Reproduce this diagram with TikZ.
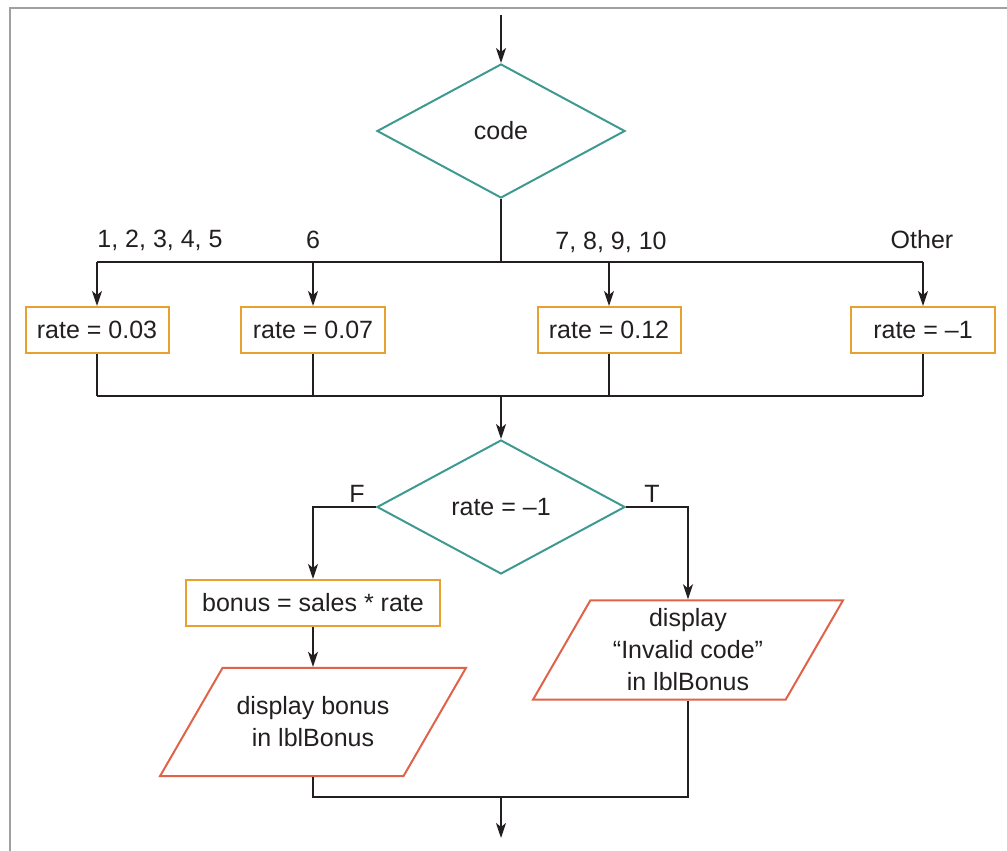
\documentclass[tikz,border=0pt]{standalone}
\usepackage{fontspec}
\setmainfont{Liberation Sans}
\usetikzlibrary{shapes.geometric,arrows.meta}
\definecolor{decisioncol}{RGB}{62,154,145}
\definecolor{processcol}{RGB}{232,160,48}
\definecolor{iocol}{RGB}{224,98,72}
\definecolor{framecol}{RGB}{160,160,160}
\definecolor{linecol}{RGB}{35,31,32}
\begin{document}
\begin{tikzpicture}[x=1pt,y=-1pt,line width=2pt,draw=linecol,
    every node/.style={font=\fontsize{25}{32}\selectfont,text=linecol},
    arr/.style={-{Stealth[length=15pt,width=10pt,inset=4pt]}},
    decision/.style={diamond,draw=decisioncol,inner sep=0pt,minimum width=248pt,minimum height=134pt},
    process/.style={rectangle,draw=processcol,minimum height=46pt,inner sep=0pt},
    io/.style={trapezium,trapezium left angle=60,trapezium right angle=120,trapezium stretches body=true,
      draw=iocol,inner xsep=0pt,align=center}]
  \useasboundingbox (0,0) rectangle (1007,851);
  \draw[framecol,line width=2.5pt] (10,860) -- (10,8) -- (1015,8);

  \node[decision] (code) at (501,131) {code};
  \node[process,minimum width=143pt] (r1) at (97,330) {rate = 0.03};
  \node[process,minimum width=144pt] (r2) at (313,330) {rate = 0.07};
  \node[process,minimum width=143pt] (r3) at (609,330) {rate = 0.12};
  \node[process,minimum width=144pt] (r4) at (923,330) {rate = –1};
  \node (l1) at (160,240) {1, 2, 3, 4, 5};
  \node (l2) at (313,240) {6};
  \node (l3) at (611,242) {7, 8, 9, 10};
  \node (l4) at (922,240) {Other};
  \node[decision] (test) at (501,507) {rate = –1};
  \node[process,minimum width=254pt] (bonus) at (313,603) {bonus = sales * rate};
  \node[io,minimum width=306pt,inner ysep=29pt] (p1) at (313,722) {display bonus\\in lblBonus};
  \node[io,minimum width=310pt,inner ysep=8.5pt] (p2) at (688,650) {display\\“Invalid code”\\in lblBonus};

  \coordinate (start) at (501,15);
  \coordinate (split) at (501,262);
  \coordinate (join) at (501,396);
  \coordinate (merge) at (501,797);
  \coordinate (exit) at (501,838);

  \draw[arr] (start) -- (code);
  \draw (code) -- (split);
  \draw (r1.north |- split) -- (r4.north |- split);
  \foreach \b in {r1,r2,r3,r4} {
    \draw[arr] (\b.north |- split) -- (\b);
    \draw (\b) -- (\b.south |- join);
  }
  \draw (r1.south |- join) -- (r4.south |- join);
  \draw[arr] (join) -- (test);
  \draw[arr] (test.west) -| node[pos=0.15,above] (f) {F} (bonus);
  \draw[arr] (test.east) -| node[pos=0.21,above] (t) {T} (p2);
  \draw[arr] (bonus) -- (p1);
  \draw (p1.south) |- (merge) -| (p2.south);
  \draw[arr] (merge) -- (exit);
\end{tikzpicture}
\end{document}
